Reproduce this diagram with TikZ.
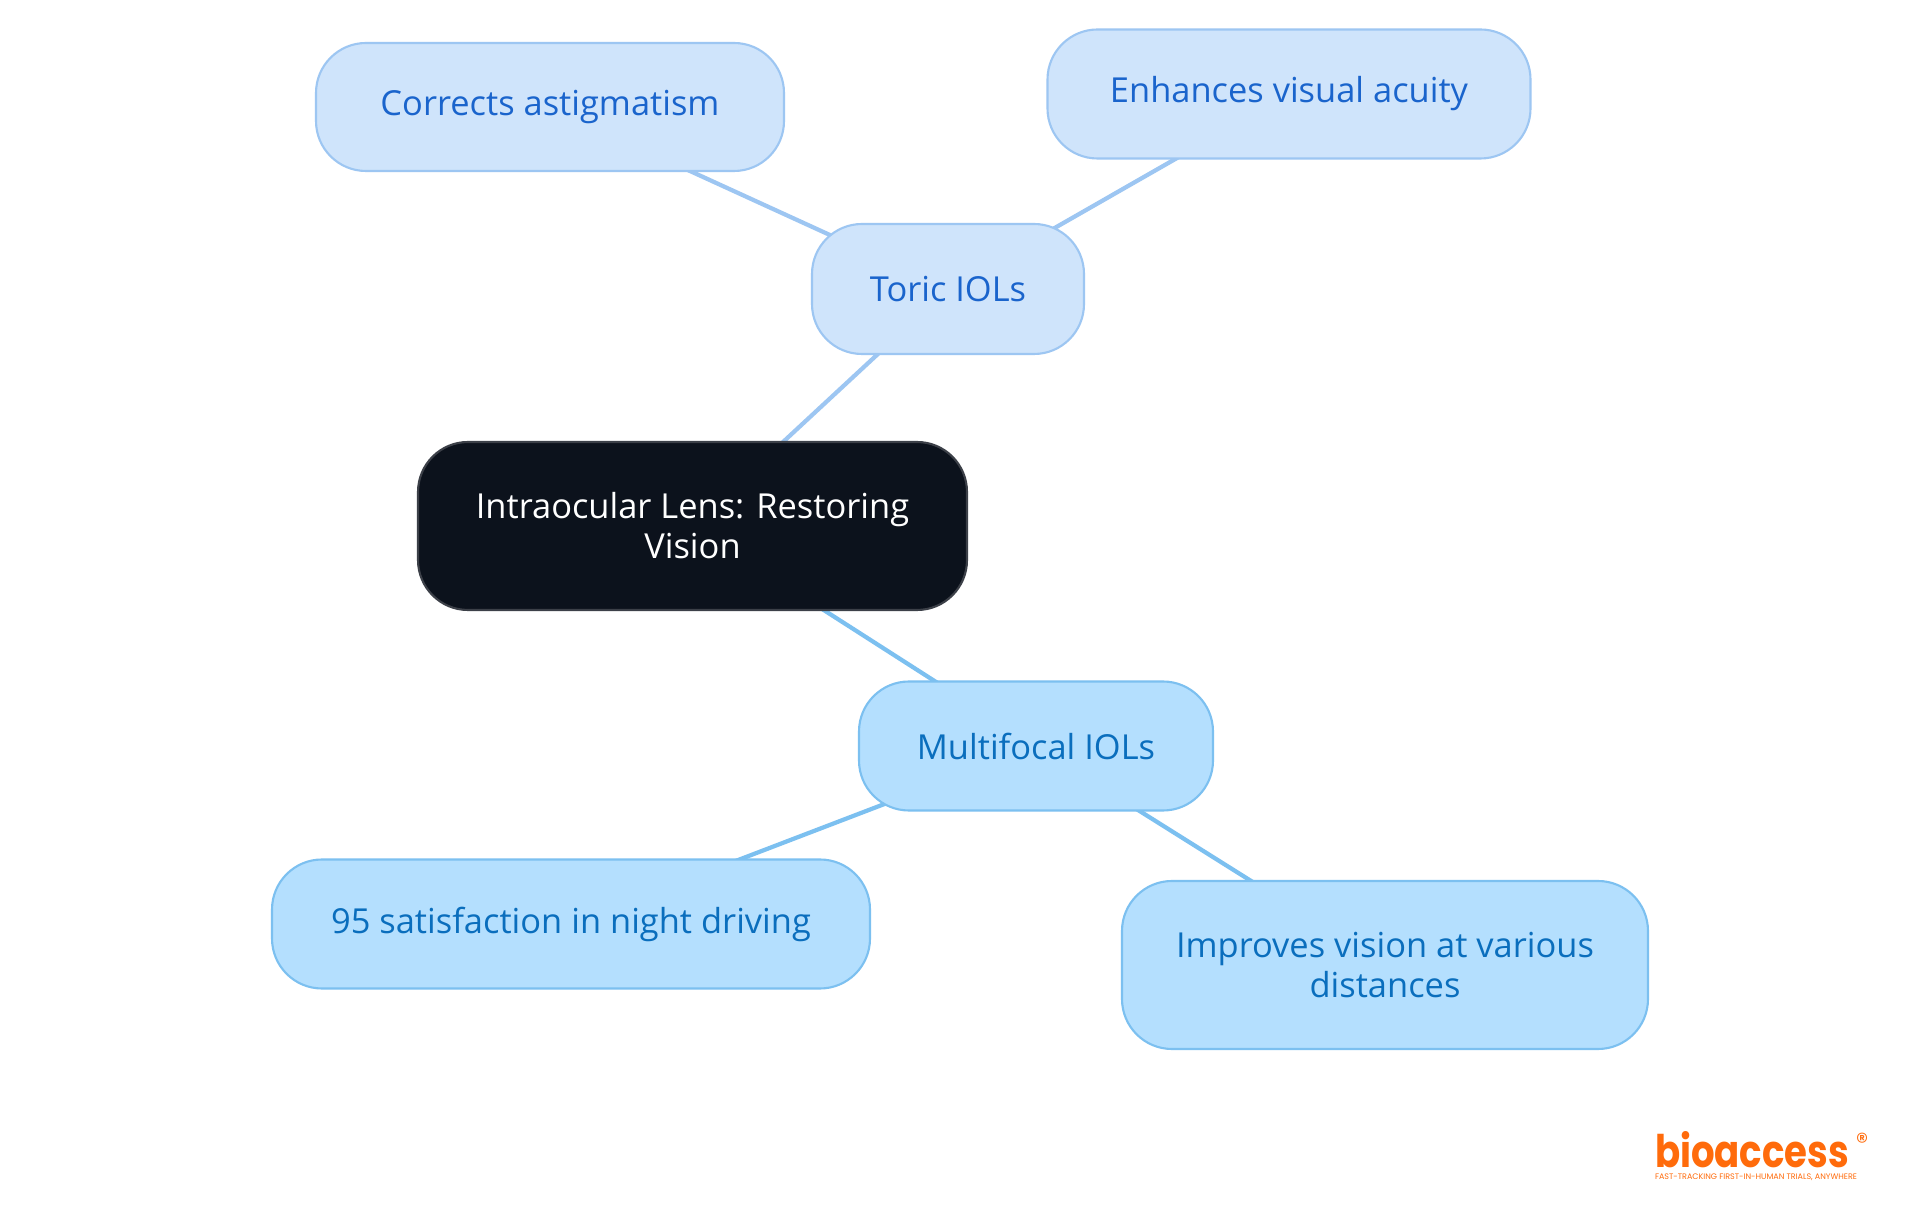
\documentclass[tikz,border=0pt]{standalone}
\usepackage{fontspec}
\usepackage{graphicx}
\setmainfont{Open Sans}
\newfontfamily\logofont{Poppins}
\usetikzlibrary{backgrounds}

\definecolor{rootfill}{HTML}{0C121C}
\definecolor{rootline}{HTML}{3C4048}
\definecolor{toricfill}{HTML}{CFE4FB}
\definecolor{toricline}{HTML}{9DC6F2}
\definecolor{torictext}{HTML}{1A64CC}
\definecolor{multifill}{HTML}{B4DFFE}
\definecolor{multiline}{HTML}{7CC0F0}
\definecolor{multitext}{HTML}{0A6EBD}
\definecolor{logoorange}{HTML}{FF6B0B}

\tikzset{
  lens/.style={rounded corners=5mm, line width=0.6pt, inner sep=0pt, align=center,
    font=\fontsize{9.8}{11.4}\selectfont},
  rootbox/.style={lens, draw=rootline, fill=rootfill, text=white},
  toricbox/.style={lens, draw=toricline, fill=toricfill, text=torictext},
  multibox/.style={lens, draw=multiline, fill=multifill, text=multitext},
  toricedge/.style={draw=toricline, line width=1.2pt},
  multiedge/.style={draw=multiline, line width=1.2pt},
}

\begin{document}
\begin{tikzpicture}[x=0.1mm, y=-0.1mm]
    \useasboundingbox (0,0) rectangle (1920,1215);
    % centre
    \node[rootbox, minimum width=54.9mm, minimum height=16.8mm] (root) at (692.5,526) {Intraocular Lens: Restoring\\Vision};
    % toric branch
    \node[toricbox, minimum width=27.2mm, minimum height=13mm] (toric) at (948,289) {Toric IOLs};
    \node[toricbox, minimum width=46.8mm, minimum height=12.8mm] (astig) at (550,107) {Corrects astigmatism};
    \node[toricbox, minimum width=48.3mm, minimum height=12.9mm] (acuity) at (1289,94) {Enhances visual acuity};
    % multifocal branch
    \node[multibox, minimum width=35.4mm, minimum height=12.9mm] (multi) at (1036,746) {Multifocal IOLs};
    \node[multibox, minimum width=59.8mm, minimum height=12.9mm] (night) at (571,924) {95 satisfaction in night driving};
    \node[multibox, minimum width=52.6mm, minimum height=16.8mm] (dist) at (1385,965) {Improves vision at various\\distances};
    % logo
    \node[text=logoorange, inner sep=0pt] (logo) at (1752,1150) {\resizebox{19.4mm}{3.6mm}{\logofont\bfseries bioaccess}};
    \node[text=logoorange, inner sep=0pt, font=\fontsize{7}{7}\selectfont] (reg) at (1862,1142) {\logofont\textregistered};
    \node[text=logoorange, inner sep=0pt] (slogan) at (1756,1177) {\resizebox{20.2mm}{!}{\logofont FAST-TRACKING FIRST-IN-HUMAN TRIALS, ANYWHERE}};
    \begin{pgfonlayer}{background}
      \fill[white] (0,0) rectangle (1920,1215);
      \draw[toricedge] (root.center) -- (toric.center);
      \draw[toricedge] (toric.center) -- (astig.center);
      \draw[toricedge] (toric.center) -- (acuity.center);
      \draw[multiedge] (root.center) -- (multi.center);
      \draw[multiedge] (multi.center) -- (night.center);
      \draw[multiedge] (multi.center) -- (dist.center);
    \end{pgfonlayer}
\end{tikzpicture}
\end{document}
